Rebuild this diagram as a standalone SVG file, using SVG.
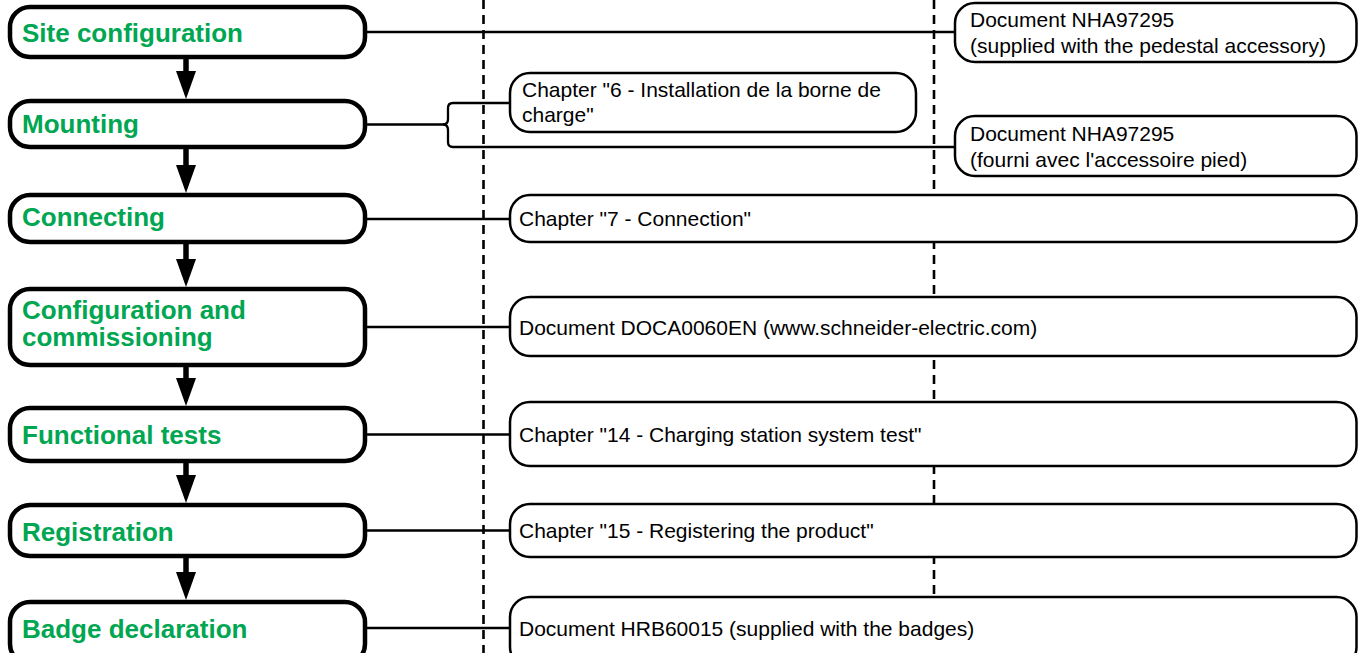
<svg xmlns="http://www.w3.org/2000/svg" width="1359" height="653" viewBox="0 0 1359 653">
<style>
.step{fill:#fff;stroke:#000;stroke-width:4.5}
.doc{fill:#fff;stroke:#000;stroke-width:2.5}
.st{font-family:"Liberation Sans",Arial,sans-serif;font-weight:bold;font-size:26px;fill:#00a651}
.dt{font-family:"Liberation Sans",Arial,sans-serif;font-size:21px;fill:#000}
.dash{stroke:#000;stroke-width:2.6;stroke-dasharray:9 6;fill:none}
.con{stroke:#000;stroke-width:2.3;fill:none}
.shaft{stroke:#000;stroke-width:5.5;fill:none}
</style>
<rect width="1359" height="653" fill="#fff"/>
<g id="guides">
<line class="dash" x1="483.5" y1="0" x2="483.5" y2="653"/>
<line class="dash" x1="934" y1="0" x2="934" y2="653"/>
</g>
<g id="connectors">
<path class="con" d="M365 32 H955"/>
<path class="con" d="M365 124.5 H443 Q448 124.5 448 119 V108 Q448 103 453 103 H510"/>
<path class="con" d="M443 124.5 Q448 124.5 448 130 V142 Q448 147 453 147 H955"/>
<path class="con" d="M365 219 H510"/>
<path class="con" d="M365 327 H510"/>
<path class="con" d="M365 434.5 H510"/>
<path class="con" d="M365 530.5 H510"/>
<path class="con" d="M365 628 H510"/>
<path class="shaft" d="M186 59 V72"/>
<polygon points="176,71 196,71 186,99"/>
<path class="shaft" d="M186 149 V166"/>
<polygon points="176,165 196,165 186,193"/>
<path class="shaft" d="M186 244 V260"/>
<polygon points="176,259 196,259 186,287"/>
<path class="shaft" d="M186 367 V379"/>
<polygon points="176,378 196,378 186,406"/>
<path class="shaft" d="M186 463 V476"/>
<polygon points="176,475 196,475 186,503"/>
<path class="shaft" d="M186 558 V573"/>
<polygon points="176,572 196,572 186,600"/>
</g>
<g id="step-site">
<rect class="step" x="10" y="7" width="355" height="50" rx="20"/>
<text class="st" x="22" y="42">Site configuration</text>
</g>
<g id="step-mounting">
<rect class="step" x="10" y="101" width="355" height="46" rx="20"/>
<text class="st" x="22" y="133">Mounting</text>
</g>
<g id="step-connecting">
<rect class="step" x="10" y="195" width="355" height="47" rx="20"/>
<text class="st" x="22" y="226">Connecting</text>
</g>
<g id="step-config">
<rect class="step" x="10" y="289" width="355" height="76" rx="20"/>
<text class="st" x="22" y="319">Configuration and</text>
<text class="st" x="22" y="346">commissioning</text>
</g>
<g id="step-tests">
<rect class="step" x="10" y="408" width="355" height="53" rx="20"/>
<text class="st" x="22" y="444">Functional tests</text>
</g>
<g id="step-registration">
<rect class="step" x="10" y="505" width="355" height="51" rx="20"/>
<text class="st" x="22" y="541">Registration</text>
</g>
<g id="step-badge">
<rect class="step" x="10" y="602" width="355" height="62" rx="20"/>
<text class="st" x="22" y="638">Badge declaration</text>
</g>
<g id="doc-pedestal">
<rect class="doc" x="955" y="3" width="401.5" height="59" rx="20"/>
<text class="dt" x="970" y="27">Document NHA97295</text>
<text class="dt" x="970" y="53">(supplied with the pedestal accessory)</text>
</g>
<g id="doc-ch6">
<rect class="doc" x="510" y="73" width="406" height="59" rx="20"/>
<text class="dt" x="522" y="97">Chapter "6 - Installation de la borne de</text>
<text class="dt" x="522" y="122">charge"</text>
</g>
<g id="doc-pied">
<rect class="doc" x="955" y="116" width="401.5" height="60" rx="20"/>
<text class="dt" x="970" y="141">Document NHA97295</text>
<text class="dt" x="970" y="167">(fourni avec l'accessoire pied)</text>
</g>
<g id="doc-ch7">
<rect class="doc" x="510" y="195" width="846.5" height="47" rx="20"/>
<text class="dt" x="519" y="226">Chapter "7 - Connection"</text>
</g>
<g id="doc-doca">
<rect class="doc" x="510" y="297" width="846.5" height="59" rx="20"/>
<text class="dt" x="519" y="335">Document DOCA0060EN (www.schneider-electric.com)</text>
</g>
<g id="doc-ch14">
<rect class="doc" x="510" y="402" width="846.5" height="64" rx="20"/>
<text class="dt" x="519" y="442">Chapter "14 - Charging station system test"</text>
</g>
<g id="doc-ch15">
<rect class="doc" x="510" y="504" width="846.5" height="53" rx="20"/>
<text class="dt" x="519" y="538">Chapter "15 - Registering the product"</text>
</g>
<g id="doc-hrb">
<rect class="doc" x="510" y="597" width="846.5" height="70" rx="20"/>
<text class="dt" x="519" y="636">Document HRB60015 (supplied with the badges)</text>
</g>
</svg>
